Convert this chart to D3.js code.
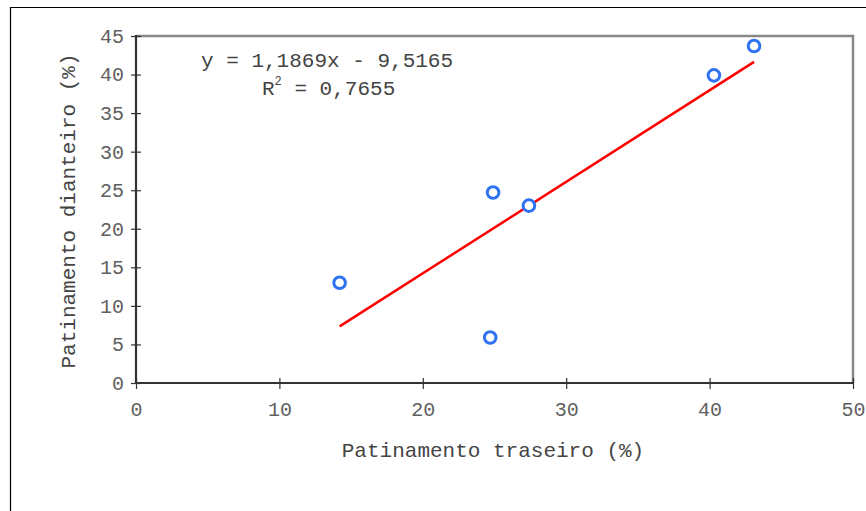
<!DOCTYPE html>
<html><head><meta charset="utf-8">
<script src="https://cdn.jsdelivr.net/npm/d3@7"></script>
<style>body{margin:0;background:#fff}svg{display:block}text{font-family:"Liberation Mono","Courier New",monospace}</style>
</head><body>
<svg id="c" width="866" height="511"></svg>
<script>
const xValues = [14.2, 24.7, 24.9, 27.4, 40.3, 43.1];
const yValues = [13.0, 5.9, 24.7, 23.0, 39.9, 43.7];
const xTicks = [0, 10, 20, 30, 40, 50];
const yTicks = [0, 5, 10, 15, 20, 25, 30, 35, 40, 45];
const slope = 1.1869, intercept = -9.5165;
const eqText = "y = 1,1869x - 9,5165";
const r2Value = "0,7655";
const xTitle = "Patinamento traseiro (%)";
const yTitle = "Patinamento dianteiro (%)";

const svg = d3.select("#c");
const L = 136, R = 853, T = 36, B = 383;
const x = d3.scaleLinear().domain([0, 50]).range([L, R]);
const y = d3.scaleLinear().domain([0, 45]).range([B, T]);

// outer frame
svg.append("path").attr("d", `M10.5,511 V7.5 H866`).attr("fill","none").attr("stroke","#000").attr("stroke-width",1.2);

// plot border top/right
svg.append("path").attr("d", `M${L},${T} H${R} V${B}`).attr("fill","none").attr("stroke","#888").attr("stroke-width",2.5);

// axes
const xAxis = d3.axisBottom(x).tickValues(xTicks).tickSize(0).tickPadding(0);
const gx = svg.append("g").attr("transform",`translate(0,${B})`).call(xAxis);
gx.select(".domain").remove();
gx.selectAll(".tick line").remove();
gx.selectAll(".tick").append("line").attr("y1",-5).attr("y2",6).attr("stroke","#333").attr("stroke-width",1.2);
gx.selectAll(".tick text").attr("y",33).attr("dy",0).attr("font-size",20).attr("fill","#606060").attr("font-family","Liberation Mono");

const yAxis = d3.axisLeft(y).tickValues(yTicks).tickSize(0).tickPadding(0);
const gy = svg.append("g").attr("transform",`translate(${L},0)`).call(yAxis);
gy.select(".domain").remove();
gy.selectAll(".tick line").remove();
gy.selectAll(".tick").append("line").attr("x1",-5).attr("x2",5).attr("stroke","#333").attr("stroke-width",1.2);
gy.selectAll(".tick text").attr("x",-12).attr("dy","0.32em").attr("font-size",20).attr("fill","#606060").attr("font-family","Liberation Mono");

svg.append("line").attr("x1",L).attr("x2",R+1).attr("y1",B).attr("y2",B).attr("stroke","#333").attr("stroke-width",2.2);
svg.append("line").attr("x1",L).attr("x2",L).attr("y1",T-1).attr("y2",B+1).attr("stroke","#333").attr("stroke-width",2.2);

// trend line
const xMin = d3.min(xValues), xMax = d3.max(xValues);
svg.append("line")
  .attr("x1", x(xMin)).attr("y1", y(slope*xMin+intercept))
  .attr("x2", x(xMax)).attr("y2", y(slope*xMax+intercept))
  .attr("stroke","#ff0000").attr("stroke-width",2.5);

// points
svg.selectAll("circle.pt").data(xValues.map((v,i)=>[v,yValues[i]])).enter()
  .append("circle").attr("class","pt")
  .attr("cx",d=>x(d[0])).attr("cy",d=>y(d[1])).attr("r",5.8)
  .attr("fill","#fff").attr("stroke","#2f72f2").attr("stroke-width",3);

// equation
svg.append("text").attr("x",201).attr("y",67).attr("font-size",21).attr("fill","#444").text(eqText);
const r2 = svg.append("text").attr("x",262).attr("y",95).attr("font-size",21).attr("fill","#444");
r2.append("tspan").text("R");
r2.append("tspan").attr("font-size",12).attr("dy",-10).text("2");
r2.append("tspan").attr("dy",10).text(" = " + r2Value);

// titles
svg.append("text").attr("x",493).attr("y",457).attr("text-anchor","middle").attr("font-size",21).attr("fill","#444").text(xTitle);
svg.append("text").attr("transform","translate(75,211) rotate(-90)").attr("text-anchor","middle").attr("font-size",21).attr("fill","#444").text(yTitle);
</script>
</body></html>
